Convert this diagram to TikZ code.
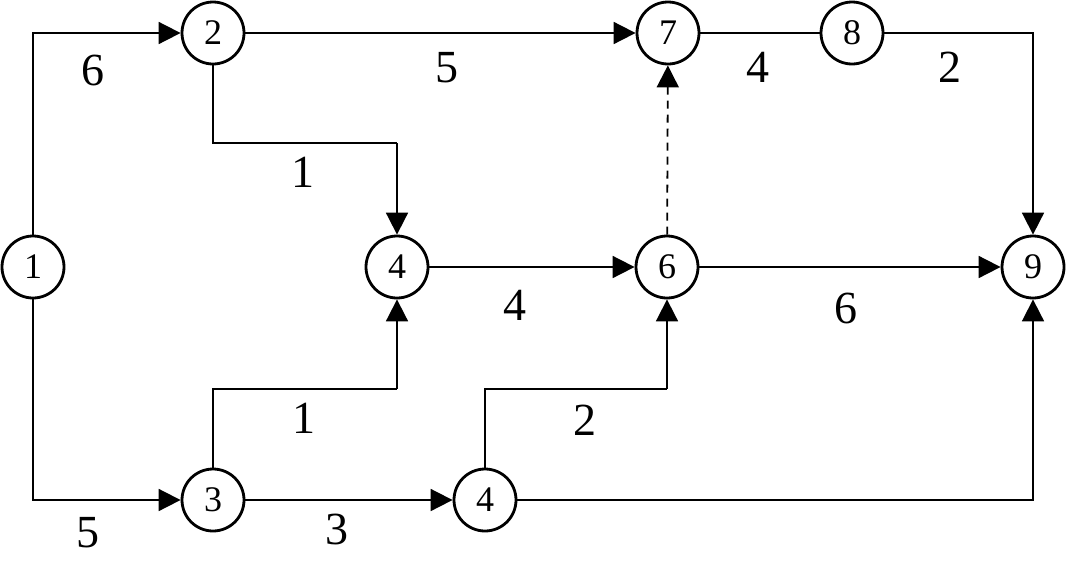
\documentclass[tikz,border=0pt]{standalone}
\usepackage{fontspec}
\setmainfont{Liberation Serif}
\usetikzlibrary{arrows.meta}
\begin{document}
\begin{tikzpicture}[x=1pt,y=-1pt,
  ev/.style={circle,draw,line width=2.8pt,minimum size=62pt,inner sep=0pt,font=\fontsize{36}{36}\selectfont},
  lab/.style={font=\fontsize{46}{46}\selectfont,inner sep=0pt},
  arr/.style={line width=1.8pt,-{Triangle[length=22pt,width=22pt]}},
  ln/.style={line width=1.8pt}]
\useasboundingbox (0,0) rectangle (1067,568);
\node[ev] (n1) at (33,267) {1};
\node[ev] (n2) at (213,33) {2};
\node[ev] (n7) at (668,33) {7};
\node[ev] (n8) at (852,33) {8};
\node[ev] (n4a) at (397,267) {4};
\node[ev] (n6) at (667,267) {6};
\node[ev] (n9) at (1033,267) {9};
\node[ev] (n3) at (213,500) {3};
\node[ev] (n4b) at (485,500) {4};
\coordinate (c24) at (397,143);
\coordinate (c34) at (397,389);
\coordinate (c46) at (667,389);
\draw[arr] (n1) |- (n2);
\draw[arr] (n1) |- (n3);
\draw[arr] (n2) -- (n7);
\draw[ln] (n2) |- (c24);
\draw[arr] (c24) -- (n4a);
\draw[ln] (n7) -- (n8);
\draw[arr] (n8) -| (n9);
\draw[arr] (n4a) -- (n6);
\draw[arr,dash pattern=on 8pt off 6pt] (n6) -- (n7);
\draw[arr] (n6) -- (n9);
\draw[ln] (n3) |- (c34);
\draw[arr] (c34) -- (n4a);
\draw[arr] (n3) -- (n4b);
\draw[ln] (n4b) |- (c46);
\draw[arr] (c46) -- (n6);
\draw[arr] (n4b) -| (n9);
\node[lab] (l12) at (93,70) {6};
\node[lab] (l27) at (447,68) {5};
\node[lab] (l24) at (303,172) {1};
\node[lab] (l78) at (758,67) {4};
\node[lab] (l89) at (950,67) {2};
\node[lab] (l46) at (515,305) {4};
\node[lab] (l69) at (846,308) {6};
\node[lab] (l34) at (304,418) {1};
\node[lab] (l4b6) at (585,420) {2};
\node[lab] (l13) at (88,533) {5};
\node[lab] (l3b) at (337,529) {3};
\end{tikzpicture}
\end{document}
